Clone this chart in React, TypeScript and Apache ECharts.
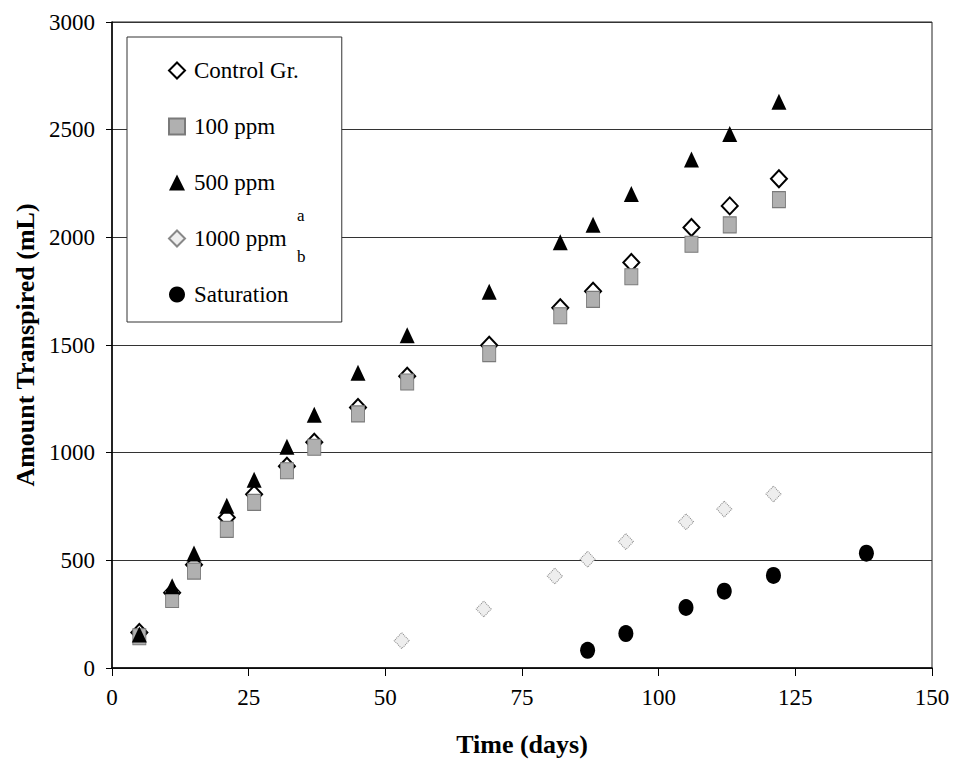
import React, { useEffect, useRef } from "react";
import * as echarts from "echarts";

const mainDays = [5, 11, 15, 21, 26, 32, 37, 45, 54, 69, 82, 88, 95, 106, 113, 122];
const controlValues = [165, 350, 480, 699, 807, 937, 1048, 1210, 1355, 1499, 1673, 1750, 1883, 2046, 2146, 2272];
const ppm100Values = [145, 318, 450, 644, 769, 916, 1025, 1180, 1328, 1460, 1636, 1712, 1817, 1968, 2058, 2175];
const ppm500Values = [155, 380, 532, 753, 874, 1028, 1176, 1371, 1545, 1747, 1977, 2058, 2201, 2361, 2480, 2630];
const ppm1000Days = [53, 68, 81, 87, 94, 105, 112, 121];
const ppm1000Values = [127, 274, 427, 505, 587, 679, 738, 808];
const saturationDays = [87, 94, 105, 112, 121, 138];
const saturationValues = [82, 160, 281, 357, 430, 533];

const xTicks = [0, 25, 50, 75, 100, 125, 150];
const yTicks = [0, 500, 1000, 1500, 2000, 2500, 3000];

const seriesNames = ["Control Gr.", "100 ppm", "500 ppm", "1000 ppm", "Saturation"];

const FONT = "'Liberation Serif', 'DejaVu Serif', serif";

function pairs(xs: number[], ys: number[]) {
  return xs.map((x, i) => [x, ys[i]]);
}

export default function App() {
  const ref = useRef<HTMLDivElement>(null);
  useEffect(() => {
    if (!ref.current) return;
    const chart = echarts.init(ref.current, undefined, { renderer: "svg" });
    chart.setOption({
      animation: false,
      backgroundColor: "#ffffff",
      grid: {
        left: 112,
        right: 21,
        top: 22,
        bottom: 94,
        show: true,
        borderColor: "#222",
        borderWidth: 1,
      },
      xAxis: {
        type: "value",
        min: xTicks[0],
        max: xTicks[xTicks.length - 1],
        interval: 25,
        name: "Time (days)",
        nameLocation: "middle",
        nameGap: 63,
        nameTextStyle: { fontFamily: FONT, fontSize: 26, fontWeight: "bold", color: "#000" },
        axisLine: { show: true, onZero: false, lineStyle: { color: "#000", width: 1.5 } },
        axisTick: { show: true, length: 8, lineStyle: { color: "#000", width: 1 } },
        axisLabel: { margin: 18, fontFamily: FONT, fontSize: 23, color: "#000", formatter: (v: number) => String(v) },
        splitLine: { show: false },
      },
      yAxis: {
        type: "value",
        min: yTicks[0],
        max: yTicks[yTicks.length - 1],
        interval: 500,
        name: "Amount Transpired (mL)",
        nameLocation: "middle",
        nameGap: 62,
        nameTextStyle: { fontFamily: FONT, fontSize: 26, fontWeight: "bold", color: "#000" },
        axisLine: { show: true, lineStyle: { color: "#000", width: 1.5 } },
        axisTick: { show: true, length: 6, lineStyle: { color: "#000", width: 1 } },
        axisLabel: { margin: 17, fontFamily: FONT, fontSize: 23, color: "#000", formatter: (v: number) => String(v) },
        splitLine: { show: true, lineStyle: { color: "#333", width: 1 } },
      },
      legend: {
        orient: "vertical",
        left: 127,
        top: 37,
        padding: [22, 43, 16, 41],
        itemGap: 33,
        itemWidth: 16,
        itemHeight: 16,
        borderColor: "#333",
        borderWidth: 1,
        backgroundColor: "#fff",
        data: seriesNames,
        textStyle: { fontFamily: FONT, fontSize: 23, color: "#000", padding: [0, 0, 0, 4] },
      },
      graphic: [
        {
          type: "text",
          left: 297,
          top: 207,
          style: { text: "a", fontFamily: FONT, fontSize: 17, fill: "#000" },
          z: 100,
        },
        {
          type: "text",
          left: 297,
          top: 248,
          style: { text: "b", fontFamily: FONT, fontSize: 17, fill: "#000" },
          z: 100,
        },
      ],
      series: [
        {
          name: seriesNames[0],
          type: "scatter",
          symbol: "diamond",
          symbolSize: [16, 17],
          data: pairs(mainDays, controlValues),
          itemStyle: { color: "#fff", borderColor: "#000", borderWidth: 2, opacity: 1 },
          z: 3,
        },
        {
          name: seriesNames[1],
          type: "scatter",
          symbol: "rect",
          symbolSize: [13, 16],
          data: pairs(mainDays, ppm100Values),
          itemStyle: { color: "#b0b0b0", borderColor: "#7a7a7a", borderWidth: 1, opacity: 1 },
          z: 4,
        },
        {
          name: seriesNames[2],
          type: "scatter",
          symbol: "triangle",
          symbolSize: [15, 16],
          data: pairs(mainDays, ppm500Values),
          itemStyle: { color: "#000", opacity: 1 },
          z: 5,
        },
        {
          name: seriesNames[3],
          type: "scatter",
          symbol: "diamond",
          symbolSize: [15, 16],
          data: pairs(ppm1000Days, ppm1000Values),
          itemStyle: { color: "#eeeeee", borderColor: "#888", borderWidth: 1, borderType: "dotted", opacity: 1 },
          z: 3,
        },
        {
          name: seriesNames[4],
          type: "scatter",
          symbol: "circle",
          symbolSize: [15, 17],
          data: pairs(saturationDays, saturationValues),
          itemStyle: { color: "#000", opacity: 1 },
          z: 3,
        },
      ],
    });
    return () => chart.dispose();
  }, []);
  return <div ref={ref} style={{ width: 953, height: 762, position: "absolute", left: 0, top: 0 }} />;
}
